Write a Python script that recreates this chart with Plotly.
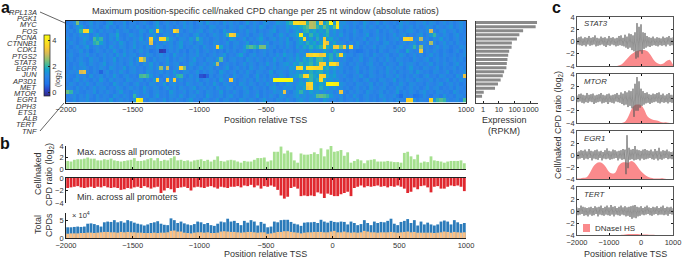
import plotly.graph_objects as go

genes = ["RPL13A","PGK1","MYC","FOS","PCNA","CTNNB1","CDK1","PTGS2","STAT3","EGFR","JUN","AP3D1","MET","MTOR","EGR1","DPH3","ETS1","ALB","TERT","TNF"]
rpkm = [2630,2150,345,200,140,67,64,45,39,35,32,30,21.5,17.7,13,8.8,5.7,1.1,0.86,0.3]
positions = [-1987.5 + 25*i for i in range(120)]
pos_c = [-2000 + 31.25*i for i in range(97)]
pos_d = [-2000 + 100*i for i in range(31)]

m0 = [1.0,1.1,1.4,2.4,1.3,1.0,1.2,1.5,1.0,1.3,1.1,.9,1.4,1.6,1.0,1.2,1.1,1.5,.9,1.2,1.3,1.0,1.2,1.4,1.1,.9,1.3,1.6,1.0,1.2,1.4,1.1,1.3,1.0,1.2,1.5,1.1,1.3,.9,1.2,1.4,1.0,1.6,1.2,1.1,1.3,1.0,1.5,1.2,1.4,1.1,1.3,1.0,1.2,1.6,1.1,1.4,1.2,1.0,1.5,1.3,1.1,1.2,1.6,1.4,1.3,1.8,2.0,3.7,3.8,3.6,3.5,2.0,2.8,2.7,1.8,3.3,1.7,2.0,4.3,1.6,3.9,1.4,1.5,1.2,1.1,1.4,1.2,1.0,1.6,1.3,1.1,1.2,1.5,1.0,1.4,1.2,1.1,1.3,1.0,1.5,1.2,1.4,1.1,1.0,1.3,1.2,1.5,1.1,1.4,1.3,1.0,1.2,1.4,1.1,1.3,1.0,1.2,1.4,1.1]
m1 = [1.3,.9,1.2,1.5,1.7,1.2,1.0,1.4,1.1,1.3,1.0,1.2,1.6,1.1,1.3,.9,1.2,1.4,1.0,1.3,1.1,1.5,1.2,1.0,1.4,1.1,1.3,1.7,1.2,1.0,1.4,1.2,1.0,1.3,1.1,1.5,1.2,1.4,1.0,1.1,1.3,1.2,1.0,1.5,1.4,1.1,1.2,1.3,1.0,1.4,1.2,1.1,1.5,1.3,1.0,1.2,1.4,1.1,1.6,1.3,1.0,1.2,1.5,1.1,1.3,1.2,1.6,1.4,1.7,1.5,1.8,2.0,2.2,2.8,2.7,2.0,1.8,2.3,1.9,1.7,2.2,3.9,1.5,1.2,1.4,1.1,1.3,1.0,1.2,1.5,1.1,1.4,1.2,1.0,1.3,1.1,1.4,1.2,1.0,1.3,1.5,1.1,1.2,1.4,1.0,1.3,1.1,1.2,1.5,1.3,1.0,1.4,1.2,1.1,1.3,1.5,1.0,1.2,1.4,1.1]
m2 = [1.1,1.3,1.0,1.4,2.0,3.6,3.7,1.7,1.2,1.0,1.4,1.1,1.3,1.2,1.0,1.5,1.1,1.3,1.4,1.0,1.2,1.1,1.5,1.3,1.0,1.7,1.2,3.6,1.5,1.1,1.3,1.2,3.7,3.2,1.3,1.0,1.2,1.4,1.1,1.3,1.5,1.0,1.2,1.4,1.1,1.3,1.0,1.6,1.2,1.4,1.2,1.0,1.3,1.1,1.5,1.2,1.4,1.0,1.3,1.1,1.2,1.4,1.6,1.0,1.3,1.2,1.5,1.1,1.4,1.7,1.3,1.9,2.0,1.6,1.8,1.4,1.7,1.5,2.0,1.3,1.6,1.2,1.4,1.0,1.3,1.1,1.5,1.2,1.0,1.4,1.3,1.1,1.2,1.5,1.0,1.3,1.1,1.4,1.2,1.0,1.3,1.1,1.4,1.5,1.2,1.0,1.3,1.1,1.4,3.0,1.2,1.0,1.3,1.5,1.1,1.2,1.4,1.0,1.3,1.1]
m3 = [1.2,1.0,1.3,1.1,1.5,1.2,1.4,1.0,1.3,1.6,1.1,1.2,1.0,1.4,1.3,1.8,1.1,1.0,1.2,1.5,1.3,1.1,1.4,1.0,1.2,1.3,1.6,1.1,1.0,1.3,1.4,1.2,1.0,1.5,1.1,1.3,1.2,1.0,1.4,1.6,1.1,1.3,1.0,1.2,1.5,1.3,1.1,1.4,2.0,3.5,3.3,1.6,1.2,1.1,1.4,1.0,1.3,1.2,1.5,1.1,1.3,1.4,1.0,1.2,1.6,1.3,1.1,1.4,1.5,1.8,4.1,1.7,1.5,2.0,1.6,1.8,1.4,1.7,1.9,1.3,1.5,1.2,1.6,1.1,1.3,1.0,1.4,1.2,1.1,1.3,1.6,1.0,1.2,1.4,1.1,1.3,1.0,1.2,1.5,1.1,1.3,1.4,1.0,1.2,1.1,1.3,1.5,1.0,1.2,1.6,2.0,1.3,1.1,1.4,1.2,1.0,1.3,1.5,1.1,1.2]
m4 = [1.4,1.1,1.3,1.0,1.2,1.6,1.3,1.0,2.1,1.8,2.0,1.2,1.0,1.4,1.1,1.7,1.2,1.0,1.3,1.1,1.4,1.2,1.6,1.0,1.3,3.5,1.5,1.2,3.7,3.6,2.0,1.5,1.2,1.0,1.4,1.3,1.1,1.6,1.2,2.0,1.5,1.1,1.3,1.0,1.2,1.4,1.1,1.3,1.0,1.6,1.4,1.1,1.2,1.5,1.0,1.3,1.1,1.4,1.7,1.2,1.0,1.3,1.5,1.1,1.4,1.2,1.6,1.0,1.3,1.5,1.8,3.6,1.4,1.7,1.2,1.9,1.5,3.4,1.6,1.8,1.3,1.5,1.1,1.2,1.4,1.0,1.3,1.1,1.2,1.5,1.0,1.3,1.2,1.6,1.1,1.4,1.0,1.2,1.3,1.5,1.1,3.6,3.6,3.4,1.2,1.4,2.8,1.1,1.3,1.0,1.4,1.2,1.6,1.1,1.3,1.0,1.2,1.4,1.1,1.3]
m5 = [1.1,1.4,1.2,1.0,1.3,1.5,1.1,1.2,1.9,2.1,1.7,1.3,1.0,1.2,1.4,1.1,1.6,1.3,1.0,1.2,1.5,1.1,1.3,1.4,1.2,3.2,1.0,1.3,1.1,1.5,1.2,1.4,1.0,1.3,1.6,1.1,1.2,1.4,1.0,1.3,1.5,1.1,1.2,1.0,1.4,1.3,1.1,1.2,1.5,1.0,1.3,1.4,1.1,1.2,1.6,1.0,1.3,1.1,1.4,1.2,1.5,1.0,1.3,1.2,1.4,1.1,1.6,1.3,1.0,1.5,1.7,1.4,1.9,1.6,1.8,1.3,1.7,3.5,3.2,1.5,1.8,1.3,1.4,1.2,1.0,1.3,1.1,1.5,1.2,1.0,1.4,1.1,1.3,1.2,1.0,1.4,1.5,1.1,1.3,1.0,1.2,1.4,1.1,1.3,1.5,1.0,1.2,1.4,1.1,2.7,1.3,1.0,1.2,1.5,1.1,1.3,1.0,1.4,1.2,1.1]
m6 = [1.3,1.0,1.2,1.4,1.1,1.3,1.6,1.0,1.2,1.4,1.1,1.3,1.0,1.5,1.2,1.1,1.4,1.3,1.0,1.2,1.6,1.1,1.3,1.0,1.4,1.2,1.1,1.5,1.3,1.0,1.2,1.4,1.1,1.3,1.6,1.0,1.2,1.1,1.4,1.3,1.0,1.5,1.2,1.1,1.3,3.5,1.8,1.1,1.3,1.0,1.4,1.2,1.1,1.5,2.0,2.2,2.0,1.8,2.4,2.4,1.5,1.2,1.4,1.0,1.3,1.1,1.5,1.2,1.0,1.6,1.3,1.8,1.5,1.9,1.6,1.8,2.0,3.6,1.9,1.7,3.3,3.4,2.2,3.4,1.7,3.6,1.2,1.4,1.0,1.3,1.1,1.2,1.5,1.0,1.3,1.4,1.1,1.2,1.0,1.3,1.5,1.1,1.2,1.4,2.0,1.3,2.5,1.1,1.3,1.0,1.2,1.5,1.1,1.4,1.3,1.0,1.2,1.1,1.4,1.3]
m7 = [1.0,1.3,1.1,1.2,1.5,1.0,1.3,.8,1.1,1.4,1.2,1.0,1.3,1.1,1.6,1.2,1.0,1.4,1.1,1.3,1.0,1.2,1.5,1.1,1.3,.8,1.0,1.2,0.0,0.1,1.0,1.3,1.1,1.4,1.0,1.2,.8,1.3,1.1,1.5,1.0,1.2,1.4,1.1,1.3,1.0,1.2,.9,1.4,1.1,1.3,1.0,1.2,1.5,1.1,.9,1.3,1.0,1.2,1.4,1.1,1.3,.9,1.2,1.0,1.4,1.1,1.3,1.0,1.2,1.5,1.3,1.1,1.6,1.2,1.4,1.3,1.7,1.5,1.2,1.8,1.4,1.3,1.1,.9,1.2,1.0,.7,.8,1.1,1.3,1.0,1.2,.9,1.4,1.1,1.0,1.3,1.2,1.5,1.1,1.0,1.8,1.3,1.1,1.2,3.3,1.0,1.3,1.1,1.4,1.2,1.0,1.3,1.1,.9,1.2,1.4,1.0,1.3]
m8 = [1.2,1.4,1.1,1.0,1.3,1.2,1.5,1.1,1.3,1.0,1.2,1.4,1.1,1.3,1.0,1.5,1.2,1.6,1.1,1.3,1.4,1.0,1.2,1.1,1.5,1.3,1.0,1.2,1.4,1.1,1.3,1.0,1.6,1.2,1.1,1.4,1.0,1.3,1.2,1.5,1.1,1.3,1.0,1.2,1.4,1.1,1.3,1.6,1.0,1.2,1.1,1.4,1.7,1.2,1.0,1.3,1.5,1.1,1.2,1.4,1.0,1.3,1.1,1.5,1.2,1.7,1.3,1.4,1.1,1.6,1.3,1.5,3.4,3.5,3.8,3.6,3.3,3.5,1.7,1.9,1.4,2.0,3.6,1.6,1.2,1.3,1.0,1.2,1.4,1.1,1.3,1.0,1.5,1.2,1.1,1.3,1.4,1.0,1.2,1.1,1.5,1.3,1.0,1.2,1.4,1.1,1.3,1.0,1.2,1.5,1.1,1.3,1.0,1.4,1.2,1.1,1.3,1.0,1.2,1.4]
m9 = [1.1,1.3,1.0,1.2,1.4,1.1,1.0,1.5,1.2,1.3,1.0,1.4,1.1,1.2,1.6,1.0,1.3,1.1,1.2,1.4,1.0,1.5,3.4,2.6,1.2,1.0,1.4,1.1,1.3,1.2,1.5,1.0,1.3,1.1,1.4,1.2,1.0,1.3,1.6,1.1,1.2,1.0,1.4,1.3,1.1,1.5,2.2,1.2,1.0,1.3,1.4,1.1,1.2,1.0,1.5,1.3,1.1,1.4,1.2,1.0,1.3,1.1,1.6,1.2,1.4,1.0,1.3,1.5,1.2,1.7,1.4,1.8,1.6,1.9,1.5,2.0,2.1,1.7,1.5,1.9,1.3,1.6,1.2,1.4,1.1,1.0,1.3,1.2,1.5,1.0,1.1,1.4,1.2,1.0,1.3,1.1,1.5,1.2,1.0,1.4,1.3,1.1,1.2,1.0,1.4,1.2,1.1,1.3,1.5,1.0,1.2,1.4,1.1,1.3,1.0,1.2,1.4,1.1,1.3,1.0]
m10 = [1.3,1.0,1.2,1.1,1.5,1.3,1.0,1.4,1.2,1.1,1.3,1.6,1.0,1.2,1.4,1.1,1.3,1.0,1.2,1.5,1.1,1.3,1.0,1.4,1.2,1.6,1.1,1.3,1.0,1.2,1.5,1.1,1.3,1.4,1.0,1.2,1.1,1.5,1.3,1.0,1.2,1.4,1.1,1.3,1.6,2.8,1.0,1.2,1.4,1.1,1.3,1.0,1.2,1.5,1.1,1.4,1.2,1.0,1.3,1.1,1.6,1.2,1.4,1.0,1.3,1.5,1.6,1.3,1.7,1.5,1.9,1.6,1.8,2.0,1.6,1.9,3.4,3.5,1.7,3.7,3.8,3.2,1.4,1.2,1.0,1.3,1.1,1.4,1.2,1.0,1.3,1.5,1.1,1.2,1.0,1.4,1.1,1.3,1.2,1.0,1.5,1.1,1.3,1.4,1.2,1.0,1.3,1.1,1.2,1.5,1.0,1.3,1.1,1.4,1.2,1.0,1.3,1.5,1.1,1.2]
m11 = [1.2,1.0,1.4,1.1,1.3,1.5,1.2,1.0,1.3,1.1,1.4,1.2,1.0,1.5,1.3,1.1,1.2,1.6,1.0,1.3,1.4,1.1,1.2,1.0,1.3,1.5,1.1,1.4,2.6,1.3,2.9,1.0,1.2,1.4,3.5,2.4,1.1,1.3,1.0,1.2,1.5,1.1,1.3,1.4,1.0,1.2,1.1,1.3,1.6,1.0,1.2,1.4,1.1,1.3,1.0,1.5,1.2,1.1,1.4,1.3,1.0,1.2,1.5,1.1,1.3,1.4,1.2,1.6,1.5,3.6,3.7,1.7,3.7,3.8,3.7,3.6,3.6,1.8,1.9,1.5,1.7,1.3,1.4,1.1,1.2,1.0,1.3,1.5,1.1,1.2,1.0,1.4,1.3,1.1,1.2,1.0,1.5,1.3,1.1,1.4,1.2,1.0,1.3,1.6,1.1,1.2,1.0,1.4,1.3,1.1,1.2,1.5,1.0,1.3,1.1,1.2,1.4,1.0,1.3,1.1]
m12 = [1.1,1.3,1.2,1.4,3.0,3.2,1.2,1.0,1.3,1.1,.5,1.2,1.4,1.0,1.3,1.1,1.5,1.2,1.0,1.3,1.4,1.1,1.2,1.0,1.5,1.3,1.1,1.2,1.4,1.0,1.3,1.1,1.6,1.2,1.0,1.4,1.3,1.1,1.2,1.5,1.0,1.3,1.1,1.4,1.2,1.0,1.6,1.3,1.1,1.2,1.4,1.0,1.3,1.1,1.5,1.2,1.0,1.4,1.3,1.1,1.2,1.6,1.0,1.3,1.4,1.2,1.1,1.5,1.3,1.6,1.4,1.7,1.5,1.9,1.6,1.8,1.9,1.5,1.7,1.3,1.6,1.2,1.4,1.0,1.3,1.1,1.2,1.5,1.0,1.3,1.1,1.4,1.2,1.0,1.3,1.1,1.5,1.2,1.4,1.0,1.3,1.1,1.2,1.4,1.0,1.6,1.3,1.1,1.2,1.0,1.4,1.3,1.1,1.2,1.5,1.0,1.3,1.1,1.2,1.4]
m13 = [1.3,1.1,1.0,1.4,1.2,1.3,1.0,1.5,1.1,1.2,1.4,1.0,1.3,1.1,1.6,1.2,1.0,1.3,1.4,1.1,1.2,1.0,2.1,2.2,2.0,1.5,1.1,1.3,1.0,1.2,1.4,1.1,1.3,1.9,2.0,1.2,1.0,1.4,1.1,1.3,.3,.2,.5,1.3,1.0,1.2,1.4,1.1,1.3,1.0,1.5,1.2,1.1,1.3,1.4,1.0,1.2,1.6,1.1,1.3,1.0,1.4,1.2,1.1,1.5,1.3,1.0,1.4,1.6,1.7,2.0,3.6,3.7,2.0,1.8,1.6,3.6,3.5,1.8,1.5,1.7,1.3,1.2,1.4,1.1,1.0,1.3,1.2,1.5,1.1,1.0,1.4,1.3,1.1,1.2,1.0,1.4,1.3,1.1,1.5,1.2,1.0,1.3,1.1,1.4,1.2,1.0,1.3,1.5,1.1,1.2,1.0,1.4,1.3,1.1,1.2,1.0,1.5,1.3,3.2]
m14 = [1.2,1.0,1.3,1.5,1.1,1.4,1.2,1.0,1.3,1.1,1.6,1.2,1.0,1.4,1.1,1.3,1.2,1.0,1.5,1.3,1.1,1.2,1.4,1.0,1.3,1.1,1.6,3.6,1.2,1.0,3.5,1.3,3.5,1.1,1.4,1.0,1.2,1.3,1.1,1.5,1.0,1.2,1.4,1.1,1.3,1.0,1.6,1.2,1.1,3.4,1.3,1.0,1.2,1.4,1.1,1.3,1.0,1.5,1.2,1.4,1.1,1.3,4.4,4.4,4.5,4.4,4.4,4.3,1.4,1.2,1.6,1.3,1.8,2.0,1.6,1.9,3.7,1.8,1.4,1.6,1.3,1.5,1.2,1.0,1.3,1.1,1.4,1.2,1.0,1.3,1.5,1.1,1.2,1.0,1.4,1.3,1.1,1.2,1.6,1.0,1.3,1.1,1.4,1.2,1.0,1.5,1.3,1.1,1.2,1.4,1.0,1.3,1.1,1.2,1.5,1.0,1.3,1.1,1.4,1.2]
m15 = [1.1,1.4,1.2,1.0,1.3,1.1,1.5,1.2,1.0,1.4,1.3,1.1,1.2,1.0,1.6,1.3,1.1,1.4,1.2,1.0,1.3,1.5,1.1,1.2,1.0,1.4,1.3,1.1,1.2,1.6,1.0,1.3,1.4,1.1,1.2,1.0,1.5,1.3,1.1,1.2,1.4,1.0,1.3,1.1,1.6,1.2,1.0,1.4,1.3,1.1,1.2,1.0,1.5,1.3,1.1,1.4,1.2,1.0,1.3,1.1,1.5,1.2,1.4,1.0,1.3,1.1,1.6,1.4,1.2,1.5,1.7,1.6,3.5,3.6,1.7,1.5,1.8,1.6,4.2,4.3,4.2,4.1,1.5,1.3,1.1,1.2,1.0,1.4,1.3,1.1,1.2,1.5,1.0,1.3,1.1,1.4,1.2,1.0,1.3,1.1,1.5,1.2,1.0,1.4,1.3,1.1,1.2,1.0,1.4,1.2,1.1,1.3,1.5,1.0,1.2,1.4,1.1,1.3,1.0,1.2]
m16 = [1.3,1.2,1.0,1.4,1.1,1.3,1.0,1.2,1.5,1.1,1.3,1.4,1.0,1.2,1.1,1.5,1.3,1.0,1.2,1.4,1.1,1.3,1.0,1.6,1.2,1.1,1.4,1.3,1.0,1.2,1.5,1.1,1.3,1.0,1.4,1.2,1.1,1.3,1.6,1.0,1.2,1.4,1.1,1.3,1.0,1.5,1.2,1.1,1.4,1.3,1.0,1.2,1.1,1.5,1.3,1.0,1.4,1.2,1.1,1.3,1.0,1.4,1.6,1.2,1.1,1.5,1.3,1.4,1.1,1.6,1.5,1.8,3.3,3.5,1.7,1.6,1.9,1.5,1.7,1.3,1.6,1.2,1.4,1.1,1.3,1.0,1.2,1.4,1.1,1.3,1.0,1.5,1.2,1.1,1.3,1.4,1.0,1.2,1.1,1.5,1.3,1.0,1.2,1.4,1.1,1.3,1.0,1.2,1.5,1.1,1.3,1.4,1.0,1.2,1.1,1.3,1.0,1.4,1.2,1.1]
m17 = [2.3,2.0,1.2,1.4,1.1,1.0,1.3,1.2,1.5,1.0,1.3,1.1,1.4,1.2,1.0,1.3,1.6,1.1,1.2,1.0,1.4,1.3,1.1,1.5,1.2,1.0,1.3,1.4,1.1,1.2,1.0,1.6,1.3,1.1,1.2,1.4,1.0,1.3,1.1,1.5,1.2,1.0,1.4,1.3,1.1,1.2,1.6,1.0,1.3,1.1,1.4,1.2,1.0,1.3,1.5,1.1,1.2,1.4,1.0,1.3,1.1,1.2,1.5,1.3,1.4,3.2,1.2,1.0,1.4,1.6,2.0,1.5,1.3,1.7,1.4,1.6,1.3,1.5,1.2,1.4,1.1,1.3,3.3,1.2,1.0,1.3,1.1,1.4,1.2,1.0,1.5,1.3,1.1,1.2,1.4,1.0,1.3,1.1,1.2,1.6,1.0,1.3,1.1,1.4,1.2,1.0,1.3,1.5,1.1,1.2,1.0,1.4,1.3,1.1,1.2,1.0,1.5,1.3,1.1,1.2]
m18 = [1.1,1.2,1.4,1.0,1.3,1.1,1.5,1.2,1.0,1.4,1.1,1.3,1.2,1.0,1.5,1.3,1.1,1.4,1.2,1.0,2.0,1.3,1.1,1.2,1.4,1.0,1.3,1.6,1.1,1.2,1.0,1.4,1.3,1.1,1.5,1.2,1.0,1.3,1.4,1.1,1.2,1.0,1.6,1.3,1.1,1.2,1.4,1.0,1.3,1.5,1.1,1.2,1.0,1.4,1.3,1.1,1.2,1.6,1.0,1.3,1.1,1.4,1.2,1.0,1.5,1.3,1.1,1.2,1.4,1.6,1.3,1.5,1.2,1.4,1.6,2.2,2.3,2.2,2.0,1.6,1.3,1.2,1.4,1.0,1.3,1.1,1.5,1.2,1.0,1.3,1.4,1.1,1.2,1.0,1.5,1.3,1.1,1.2,1.4,1.0,.6,1.3,1.1,1.2,.7,.8,1.0,1.4,1.1,.9,1.2,1.3,1.0,1.5,1.1,1.2,1.0,1.4,1.3,1.1]
m19 = [1.2,1.1,1.4,1.0,1.3,1.2,1.5,1.1,1.0,1.4,1.2,1.3,1.1,1.6,1.0,1.2,1.4,1.1,1.3,1.0,1.5,4.3,4.0,1.2,1.0,1.4,1.3,1.1,1.2,1.5,1.0,1.3,1.1,1.4,1.2,1.0,1.3,1.6,1.1,1.2,1.0,1.4,1.3,1.1,1.2,1.5,1.0,1.3,1.4,1.1,1.2,1.0,1.5,1.3,1.1,1.4,1.2,1.0,1.3,1.6,1.1,1.2,1.0,1.4,1.3,1.1,1.5,1.2,1.0,1.4,1.6,1.3,1.2,1.5,1.3,1.4,1.1,1.6,1.4,1.2,1.3,1.1,1.4,1.0,1.2,1.3,1.1,1.5,1.0,1.2,1.4,1.1,1.3,1.0,1.2,1.5,1.1,1.3,1.0,1.4,1.2,1.1,3.5,3.6,1.4,1.0,1.3,1.2,1.1,3.6,1.5,2.0,2.2,2.0,1.3,1.1,1.2,1.4,1.0,2.1]
heat_rows = [m0,m1,m2,m3,m4,m5,m6,m7,m8,m9,m10,m11,m12,m13,m14,m15,m16,m17,m18,m19]

max_all = [1.4,1.3,1.6,1.7,1.7,1.8,2.0,1.8,1.8,1.5,1.5,1.7,1.6,1.8,1.5,1.4,1.3,1.4,1.5,1.6,1.9,1.4,1.4,1.5,1.7,1.9,1.5,1.9,1.4,1.6,1.5,1.9,2.2,1.5,1.6,1.4,1.5,1.3,1.5,1.6,1.7,1.4,1.6,1.3,1.6,2.2,1.4,1.3,1.5,1.6,1.5,1.3,1.1,1.4,1.3,1.3,1.6,1.9,1.9,2.0,1.3,1.5,3.0,3.0,3.9,2.7,3.2,2.9,1.5,1.1,2.7,2.5,2.5,2.6,2.9,2.6,3.6,2.2,3.4,4.0,3.0,3.1,3.3,2.3,2.9,1.1,1.4,1.7,1.5,1.0,1.5,1.6,1.7,1.3,1.3,1.3,1.4,1.3,1.2,1.2,1.1,2.8,3.0,2.2,1.7,2.5,1.1,1.3,1.2,2.2,1.5,1.4,1.3,1.1,1.3,1.4,1.4,1.4,1.5,1.0]
min_all = [-1.6,-1.5,-1.4,-1.3,-1.5,-1.6,-1.5,-1.4,-1.6,-1.4,-1.5,-1.3,-1.5,-1.6,-1.5,-1.6,-1.9,-1.8,-1.6,-1.7,-1.5,-1.4,-1.6,-1.3,-1.5,-1.7,-1.5,-1.4,-2.4,-2.0,-1.6,-1.8,-2.3,-1.6,-1.5,-1.4,-1.6,-2.0,-1.5,-1.4,-1.5,-1.6,-1.4,-1.3,-1.5,-1.7,-1.4,-1.5,-1.6,-1.4,-1.4,-1.3,-1.5,-1.2,-1.3,-1.1,-1.5,-1.2,-1.7,-1.3,-1.4,-1.2,-1.4,-1.9,-2.8,-3.3,-3.0,-1.6,-1.4,-1.7,-2.9,-2.8,-2.9,-2.8,-2.9,-2.3,-2.5,-3.2,-2.5,-2.7,-2.9,-2.9,-2.6,-2.4,-2.2,-2.9,-1.6,-1.4,-1.2,-1.5,-1.3,-1.4,-1.3,-1.2,-1.4,-1.3,-1.5,-1.3,-1.4,-1.2,-1.4,-1.7,-2.4,-2.2,-1.5,-1.8,-1.3,-1.2,-1.5,-2.3,-1.4,-1.3,-1.7,-1.7,-1.4,-1.2,-1.3,-1.2,-1.4,-2.1]
cellular = [3.0,3.0,3.1,3.2,3.1,3.2,4.0,4.1,3.9,3.6,3.2,4.4,4.6,4.5,5.0,4.4,4.7,4.3,5.0,4.7,4.3,4.0,3.8,3.5,3.8,4.2,4.4,4.7,4.0,3.7,3.6,5.5,5.0,4.2,4.6,4.1,3.8,3.6,3.9,4.6,4.4,3.9,4.2,3.6,3.4,4.0,4.6,4.4,5.4,4.6,4.8,4.2,3.6,4.8,4.3,5.0,4.6,3.5,4.5,4.0,3.0,3.2,4.6,4.4,5.0,5.1,5.1,4.5,4.0,3.8,3.4,4.3,4.4,4.4,4.5,4.2,5.1,4.6,4.3,4.8,4.5,4.4,4.6,4.5,3.8,4.6,4.2,3.6,3.9,5.0,4.2,3.6,4.6,4.2,4.5,4.4,4.8,5.4,4.0,3.6,4.5,4.8,5.3,4.2,5.0,3.5,4.6,3.8,4.3,3.8,3.5,3.8,4.6,4.9,4.6,3.8,5.0,4.4,3.9,4.2]
naked = [1.2,1.3,1.3,1.3,1.4,1.4,1.5,1.5,1.4,1.5,1.6,1.7,1.7,1.6,1.6,1.5,1.7,1.6,1.7,1.6,1.6,1.5,1.5,1.4,1.4,1.4,1.5,1.4,1.5,1.5,1.6,2.0,2.1,1.8,1.8,1.5,1.4,1.3,1.5,1.6,1.6,1.5,1.6,1.4,1.4,1.5,1.8,1.9,1.8,1.7,1.7,1.6,1.5,1.6,1.7,1.7,1.6,1.5,1.6,1.6,1.2,1.3,1.5,1.7,1.7,1.9,1.9,1.7,1.6,1.5,1.3,1.5,1.6,1.6,1.7,1.7,1.7,1.6,1.6,1.8,2.0,1.6,1.6,1.8,1.6,1.5,1.6,1.5,1.6,2.0,1.8,1.6,1.6,1.5,1.6,1.6,1.6,1.7,1.6,1.5,1.6,1.7,1.8,1.6,1.7,1.5,1.5,1.5,1.5,1.5,1.4,1.5,1.6,1.8,1.7,1.5,1.7,1.6,1.5,1.6]

stat3_ratio = [.6,-.5,.7,-.6,.8,-.7,.5,-.6,.7,-.8,.6,-.5,.9,-.7,.6,-.6,.7,-.5,1.0,-.8,.6,-.7,.5,-.6,.8,-.5,.6,-.7,.7,-.9,.5,-.6,.9,-.7,.6,-.5,.7,-.6,.5,-.8,.6,-.7,.9,-.6,1.0,-.7,.6,-.8,1.1,-1.0,.8,-1.2,1.3,-1.0,1.2,-1.4,1.0,-1.6,1.5,-2.8,3.0,-2.6,2.4,-1.6,2.8,-2.0,1.5,-1.2,1.4,-1.0,.9,-.8,.7,-.9,.6,-.7,.8,-.6,.5,-.7,.7,-.8,.6,-.6,.5,-.7,.8,-.6,.6,-.8,.7,-.5,.9,-.7,.6,-.6,.7]
mtor_ratio = [.5,-.6,.7,-.5,.8,-.7,.6,-.8,.5,-.6,.9,-.7,.6,-.5,.7,-.6,.8,-.9,.5,-.7,.6,-.6,.7,-.5,.9,-.8,.6,-.7,.5,-.6,.7,-.9,.8,-.6,.5,-.7,.6,-.8,.7,-.5,.9,-.6,.6,-.7,1.0,-.9,.8,-1.1,1.2,-1.0,1.0,-1.4,1.3,-1.2,1.2,-1.6,1.6,-3.0,2.4,-2.0,3.5,-2.0,2.8,-1.5,1.6,-1.2,1.2,-1.0,.9,-.8,1.0,-.7,.7,-.9,.6,-.7,.8,-.6,.7,-.5,.9,-.7,1.0,-.8,.6,-.6,.8,-.7,.5,-.6,.7,-.8,.9,-.6,.6,-.7,.6]
egr1_ratio = [.5,-.7,.6,-.6,.8,-.5,.7,-.8,.9,-.6,.6,-.7,1.0,-.5,.7,-.9,.6,-.6,.8,-.7,.9,-.8,.6,-.5,.7,-.9,.5,-.6,.8,-.7,1.1,-.6,.7,-.8,.6,-.7,.9,-.6,.8,-.5,.6,-.9,.7,-.6,.8,-.8,1.0,-.7,.9,-3.2,3.3,-2.2,1.2,-.8,.9,-.7,1.0,-.9,1.5,-.8,.9,-.7,.8,-.9,.7,-.6,.9,-.8,1.0,-.7,.8,-.6,.7,-.5,.9,-.7,.6,-.8,1.0,-.6,.7,-.9,1.2,-.7,.6,-.8,.8,-.6,.7,-.5,.9,-.7,.6,-.6,.5,-.7,.6]
tert_ratio = [.6,-.7,.5,-.6,.9,-.5,.7,-.8,.6,-.7,.5,-.9,.6,-.6,.7,-.8,.5,-.7,.8,-.5,.6,-.9,.7,-.6,.9,-.7,.5,-.8,.7,-.6,.9,-.7,.6,-.8,1.0,-.6,.7,-.9,.8,-.6,.5,-.7,.7,-.8,.9,-.6,.6,-.7,.8,-.9,.6,-.8,.7,-1.0,.8,-1.3,.9,-1.1,1.0,-1.2,.7,-.9,.6,-.8,.8,-.6,.5,-.7,.7,-.6,.9,-.5,.6,-.7,.5,-.8,.7,-.6,.6,-.5,.8,-.7,.5,-.6,.7,-.6,.9,-.7,.5,-.6,.7,-.8,.6,-.5,.7,-.6,.5]
stat3_hs = [-4,-4,-4,-4,-4,-4,-4,-4,-4,-4,-4,-4,-4,-3.9,-3.7,-3.2,-2.6,-2.1,-1.7,-1.5,-1.4,-1.4,-1.6,-2.2,-3.0,-3.5,-3.7,-3.6,-3.2,-3.0,-3.8]
mtor_hs = [-4,-4,-4,-4,-4,-4,-4,-4,-4,-4,-4,-4,-4,-4,-4,-3.8,-3.0,-1.8,-1.1,-1.0,-1.1,-1.8,-2.9,-3.3,-3.5,-3.6,-3.8,-3.9,-3.9,-4,-4]
egr1_hs = [-3.9,-3.9,-3.8,-3.7,-3.0,-2.0,-1.4,-1.2,-1.4,-2.0,-2.8,-3.1,-2.9,-1.8,-1.3,-1.2,-1.3,-1.0,-1.3,-2.0,-2.7,-3.2,-3.6,-3.8,-3.9,-3.9,-3.9,-3.9,-4,-4,-4]
tert_hs = [-4,-4,-4,-4,-4,-4,-4,-4,-4,-4,-4,-4,-4,-4,-3.95,-3.9,-3.85,-3.85,-3.85,-3.85,-3.9,-3.9,-3.9,-3.95,-3.95,-4,-4,-4,-4,-4,-4]

W, H = 682, 258
FONT = "Liberation Sans"
INK = "#333333"
def dx(a, b): return [a / W, b / W]
def dy(top, bottom): return [1 - bottom / H, 1 - top / H]

parula = [[0,"#352a87"],[.1,"#2b45c8"],[.2,"#1f74ea"],[.32,"#2a84e6"],[.38,"#1e92dc"],[.44,"#14a4cc"],[.5,"#3ab8a0"],[.6,"#8fc070"],[.7,"#d8ba56"],[.8,"#fcce2e"],[.9,"#fae61d"],[1,"#f9fb0e"]]
fig = go.Figure()

fig.add_trace(go.Heatmap(z=heat_rows, x=positions, y=list(range(20)), xaxis="x", yaxis="y", zmin=-0.3, zmax=4.4,
    colorscale=parula, hoverinfo="skip",
    colorbar=dict(x=44/W, xanchor="left", xpad=0, y=1-96/H, yanchor="bottom", ypad=0, len=61, lenmode="pixels",
                  thickness=6, thicknessmode="pixels", tickvals=[0,2,4], ticks="inside", ticklen=2, tickcolor="#222",
                  tickfont=dict(size=7.5, color=INK, family=FONT), outlinewidth=0.7, outlinecolor="#222")))
fig.add_trace(go.Bar(x=rpkm, y=list(range(20)), orientation="h", xaxis="x2", yaxis="y2", marker=dict(color="#8a8a8a", line_width=0), width=0.72))

fig.add_trace(go.Bar(x=positions, y=max_all, xaxis="x3", yaxis="y3", marker=dict(color="#a5e08e", line_width=0), width=21))
fig.add_trace(go.Bar(x=positions, y=min_all, xaxis="x4", yaxis="y4", marker=dict(color="#e0282f", line_width=0), width=21))
fig.add_trace(go.Bar(x=positions, y=cellular, xaxis="x5", yaxis="y5", marker=dict(color="#2b7bba", line_width=0), width=21))
fig.add_trace(go.Bar(x=positions, y=naked, xaxis="x5", yaxis="y5", marker=dict(color="#fcc083", line_width=0), width=21))

panels = [("STAT3", stat3_ratio, stat3_hs, 6, 17, 66), ("MTOR", mtor_ratio, mtor_hs, 7, 74, 123),
          ("EGR1", egr1_ratio, egr1_hs, 8, 131, 179), ("TERT", tert_ratio, tert_hs, 9, 187, 235)]
for name, ratio, hs, n, top, bot in panels:
    fig.add_trace(go.Scatter(x=pos_d, y=[-4]*len(pos_d), xaxis=f"x{n}", yaxis=f"y{n}", mode="lines", line=dict(width=0), showlegend=False, hoverinfo="skip"))
    fig.add_trace(go.Scatter(x=pos_d, y=hs, xaxis=f"x{n}", yaxis=f"y{n}", mode="lines", line=dict(width=0, shape="spline"), fill="tonexty", fillcolor="#fa8a8c", hoverinfo="skip"))
    fig.add_trace(go.Scatter(x=pos_c, y=ratio, xaxis=f"x{n}", yaxis=f"y{n}", mode="lines", line=dict(width=0.9, color="rgba(130,130,130,0.4)"), hoverinfo="skip"))
    fig.add_trace(go.Scatter(x=pos_c, y=ratio, xaxis=f"x{n}", yaxis=f"y{n}", mode="lines", line=dict(width=0.45, color="#4a4a4a"), hoverinfo="skip"))

tickf = dict(size=7.5, color=INK, family=FONT)
xticks = [-2000,-1500,-1000,-500,0,500,1000]
lay = dict(width=W, height=H, autosize=False, margin=dict(l=0,r=0,t=0,b=0,autoexpand=False), paper_bgcolor="white", plot_bgcolor="white",
           showlegend=False, barmode="overlay", font=dict(family=FONT, size=8, color=INK))

def xa(domain, anchor, show, **kw):
    d = dict(domain=domain, anchor=anchor, range=[-2000,1000], tickvals=xticks, ticks="inside", ticklen=2, tickwidth=0.7,
             tickcolor="#111", showgrid=False, zeroline=False, showline=True, linecolor="#222", linewidth=0.7,
             showticklabels=show, tickfont=tickf, tickangle=0)
    d.update(kw); return d
def ya(domain, anchor, rng, vals, **kw):
    d = dict(domain=domain, anchor=anchor, range=rng, tickvals=vals, ticks="inside", ticklen=2, tickwidth=0.7,
             tickcolor="#222", showgrid=False, zeroline=False, showline=True, linecolor="#222", linewidth=0.7, tickfont=tickf)
    d.update(kw); return d

lay["xaxis"] = xa(dx(66,466), "y", True, mirror="ticks")
lay["yaxis"] = ya(dy(20.5,102.5), "x", [19.5,-0.5], [], mirror=True, showticklabels=False)
lay["xaxis2"] = dict(domain=dx(476,537.5), anchor="y2", type="log", range=[-0.45,3.45], tickvals=[1,10,100,1000], ticktext=["1","10","100","1000"], tickangle=0,
                     ticks="inside", ticklen=2, tickwidth=0.7, tickcolor="#222", showgrid=False, zeroline=False, showline=True, linecolor="#444", linewidth=0.7, tickfont=tickf)
lay["yaxis2"] = ya(dy(20.5,102.5), "x2", [19.5,-0.5], [], showticklabels=False, linecolor="#444")
lay["xaxis3"] = xa(dx(66,466), "y3", False)
lay["yaxis3"] = ya(dy(146,169), "x3", [0,4], [0,2,4])
lay["xaxis4"] = xa(dx(66,466), "y4", False, side="top")
lay["yaxis4"] = ya(dy(178,203), "x4", [-4,0], [-4,-2,0])
lay["xaxis5"] = xa(dx(66,466), "y5", True)
lay["yaxis5"] = ya(dy(213,238), "x5", [0,7], [0,5])
for name, ratio, hs, n, top, bot in panels:
    lay[f"xaxis{n}"] = xa(dx(577,673), f"y{n}", n == 9, range=[-2000,1000], tickvals=[-2000,-1000,0,1000], mirror="ticks", linecolor="#555")
    lay[f"yaxis{n}"] = ya(dy(top,bot), f"x{n}", [-4,4], [-4,-2,0,2,4], mirror="ticks", linecolor="#555")

def T(x, y, text, size=8, anchor="center", angle=0, **kw):
    return dict(xref="paper", yref="paper", x=x/W, y=1-y/H, text=text, showarrow=False, xanchor=anchor, yanchor="middle",
                textangle=angle, font=dict(size=size, color=kw.pop("color", INK), family=FONT), **kw)

ann = []
for i, g in enumerate(genes):
    ann.append(T(38.5, 12.3 + 6.25*i, f"<i>{g}</i>", size=7.5, anchor="right"))
ann += [T(5, 7, "<b>a</b>", 16, color="#111"), T(5, 143, "<b>b</b>", 16, color="#111"), T(556, 7, "<b>c</b>", 16, color="#111"),
        T(265, 11, "Maximum position-specific cell/naked CPD change per 25 nt window (absolute ratios)", 9.2),
        T(265, 120, "Position relative TSS", 9), T(265, 254, "Position relative TSS", 9),
        T(625, 254, "Position relative TSS", 9),
        T(504, 120, "Expression", 9), T(504, 131, "(RPKM)", 9),
        T(58, 78, "(log<sub>2</sub>)", 7, angle=-90),
        T(75, 152, "Max. across all promoters", 9, "left"), T(75, 197, "Min. across all promoters", 9, "left"),
        T(38, 174, "Cell/naked", 9, angle=-90), T(49, 175, "CPD ratio (log<sub>2</sub>)", 9, angle=-90),
        T(38, 225, "Total", 9, angle=-90), T(49, 225, "CPDs", 9, angle=-90),
        T(70, 215, "× 10<sup>4</sup>", 7.5, "left"),
        T(558, 125, "Cell/naked CPD ratio (log<sub>2</sub>)", 9, angle=-90),
        T(593, 228, "DNaseI HS", 8, "left")]
for name, ratio, hs, n, top, bot in panels:
    ann.append(T(582, top + 7, f"<i>{name}</i>", 7.8, "left"))
lay["annotations"] = ann
def box(x0, y0, x1, y1, **kw):
    return dict(type=kw.pop("type","rect"), xref="paper", yref="paper", x0=x0/W, x1=x1/W, y0=1-y0/H, y1=1-y1/H, **kw)
lay["shapes"] = [box(40, 12, 65, 23, type="line", line=dict(color="#222", width=0.7)),
                 box(40, 131, 64, 103, type="line", line=dict(color="#222", width=0.7)),
                 box(583, 224, 590, 232, fillcolor="#fa8a8c", line=dict(width=0))]
fig.update_layout(**lay)
for r in heat_rows: assert len(r) == 120, len(r)
assert len(max_all)==len(min_all)==len(cellular)==len(naked)==120, (len(max_all),len(min_all),len(cellular),len(naked))
for p in panels: assert len(p[1])==97 and len(p[2])==31, (p[0],len(p[1]),len(p[2]))
fig.write_html("out.html", post_script="document.body.style.margin='0';", config={"displayModeBar": False})
